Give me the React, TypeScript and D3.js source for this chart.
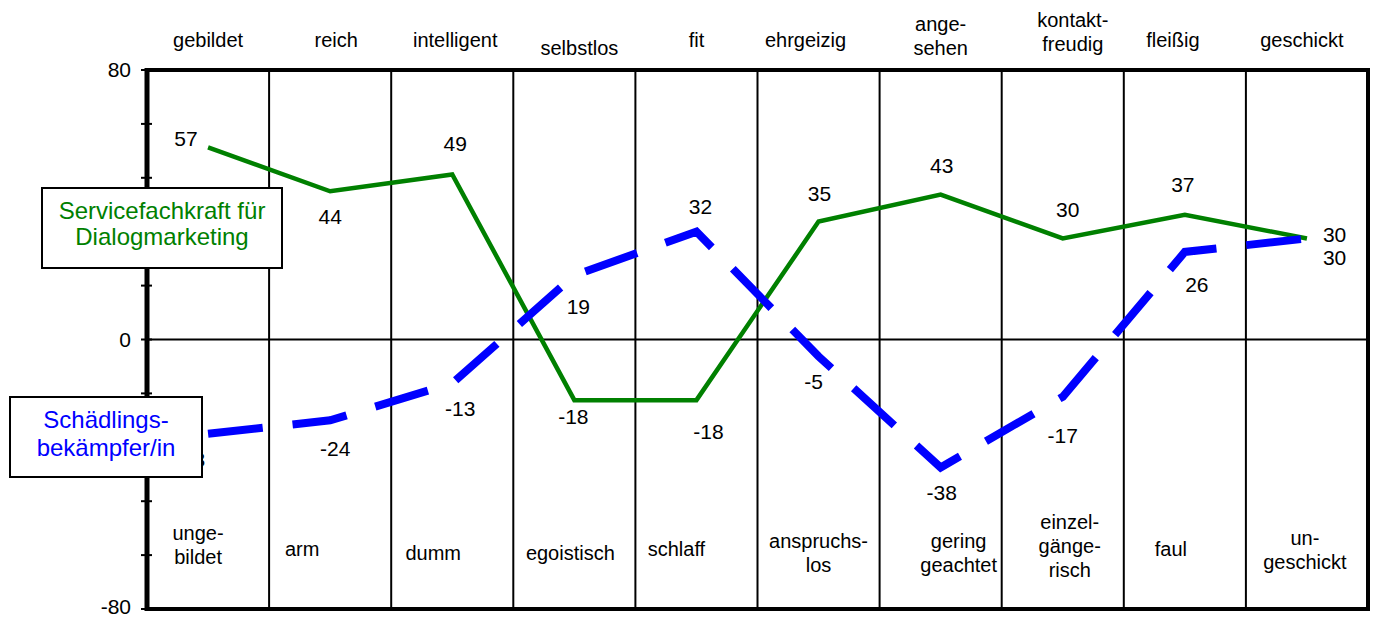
import React from "react";
import * as d3 from "d3";

// positive traits (top) and their opposites (bottom), one per column
const topLabels = [
  ["gebildet"], ["reich"], ["intelligent"], ["selbstlos"], ["fit"],
  ["ehrgeizig"], ["ange-", "sehen"], ["kontakt-", "freudig"], ["fleißig"], ["geschickt"],
];
const bottomLabels = [
  ["unge-", "bildet"], ["arm"], ["dumm"], ["egoistisch"], ["schlaff"],
  ["anspruchs-", "los"], ["gering", "geachtet"], ["einzel-", "gänge-", "risch"], ["faul"], ["un-", "geschickt"],
];
const categories = topLabels.map((l) => l.join(""));

const serviceValues = [57, 44, 49, -18, -18, 35, 43, 30, 37, 30];
const pestValues = [-28, -24, -13, 19, 32, -5, -38, -17, 26, 30];

const yTickLabels = [80, 0, -80];
const yMinorTicks = [80, 64, 48, 32, 16, 0, -16, -32, -48, -64, -80];

// label placement (layout only)
const topDx = [0, 6, 3, 5, 0, -13, 0, 10, -12, -5];
const topY = [40, 40, 40, 48, 40, 40, 24, 20, 40, 40];
const bottomDx = [-10, -28, -19, -4, -20, 0, 18, 7, -14, -2];
const bottomY = [533, 549, 553, 553, 549, 541, 541, 522, 549, 538];
const serviceOff = [[-22, -9], [0, 25], [3, -31], [-1, 17], [12, 32], [1, -28], [1, -29], [5, -29], [-2, -30], [16, -4, 1]];
const pestOff = [[-18, 26], [5, 28], [8, 25], [4, 31], [4, -25], [-5, 25], [1, 25], [0, 39], [12, 33], [16, 19, 1]];

const W = 1374;
const H = 617;
const left = 147;
const right = 1368;
const top = 70;
const bottom = 609;
const font = "'Liberation Sans', Arial, sans-serif";
const GREEN = "#008000";
const BLUE = "#0000ff";

export default function App() {
  const x = d3.scaleBand<string>().domain(categories).range([left, right]).padding(0);
  const y = d3.scaleLinear().domain([-80, 80]).range([bottom, top]);
  const cx = (i: number) => (x(categories[i]) as number) + x.bandwidth() / 2;

  const line = d3
    .line<number>()
    .x((_, i) => cx(i))
    .y((d) => y(d));

  const dataLabels = (vals: number[], off: number[][]) =>
    vals.map((v, i) => {
      const o = off[i];
      const anchor = o[2] ? "start" : "middle";
      return (
        <text
          key={i}
          x={cx(i) + o[0]}
          y={y(v) + o[1]}
          dy="0.35em"
          textAnchor={anchor}
          fontSize={21}
          fill="#000"
        >
          {v}
        </text>
      );
    });

  return (
    <svg
      width={W}
      height={H}
      style={{ position: "absolute", left: 0, top: 0, background: "#fff" }}
      fontFamily={font}
    >
      <rect width={W} height={H} fill="#fff" />

      {/* column dividers */}
      {categories.slice(1).map((c) => (
        <line key={c} x1={x(c)} x2={x(c)} y1={top} y2={bottom + 2} stroke="#000" strokeWidth={2} />
      ))}

      {/* zero line */}
      <line x1={left} x2={right} y1={y(0)} y2={y(0)} stroke="#000" strokeWidth={2} />

      {/* frame */}
      <line x1={left} x2={right + 2} y1={top} y2={top} stroke="#000" strokeWidth={4} />
      <line x1={right} x2={right} y1={top} y2={bottom} stroke="#000" strokeWidth={4} />
      <line x1={left} x2={right + 2} y1={bottom} y2={bottom} stroke="#000" strokeWidth={4} />

      {/* y axis */}
      <line x1={left} x2={left} y1={top - 2} y2={bottom + 2} stroke="#000" strokeWidth={5} />
      {yMinorTicks.map((t) => (
        <line key={t} x1={left - 6} x2={left + 5} y1={y(t)} y2={y(t)} stroke="#000" strokeWidth={2} />
      ))}
      {yTickLabels.map((t) => (
        <text key={t} x={131} y={Math.min(y(t), bottom - 2)} dy="0.35em" textAnchor="end" fontSize={21}>
          {t}
        </text>
      ))}

      {/* category labels */}
      {topLabels.map((lines, i) => (
        <text key={"t" + i} x={cx(i) + topDx[i]} y={topY[i]} textAnchor="middle" fontSize={20}>
          {lines.map((l, j) => (
            <tspan key={j} x={cx(i) + topDx[i]} y={topY[i] + j * 24} dy="0.35em">
              {l}
            </tspan>
          ))}
        </text>
      ))}
      {bottomLabels.map((lines, i) => (
        <text key={"b" + i} x={cx(i) + bottomDx[i]} y={bottomY[i]} textAnchor="middle" fontSize={20}>
          {lines.map((l, j) => (
            <tspan key={j} x={cx(i) + bottomDx[i]} y={bottomY[i] + j * 24} dy="0.35em">
              {l}
            </tspan>
          ))}
        </text>
      ))}

      {/* series */}
      <path d={line(serviceValues) as string} fill="none" stroke={GREEN} strokeWidth={4.5} />
      <path
        d={line(pestValues) as string}
        fill="none"
        stroke={BLUE}
        strokeWidth={8}
        strokeDasharray="55,30"
      />

      {dataLabels(serviceValues, serviceOff)}
      {dataLabels(pestValues, pestOff)}

      {/* legend boxes */}
      <rect x={42} y={188} width={240} height={80} fill="#fff" stroke="#000" strokeWidth={2} />
      <text x={162} textAnchor="middle" fontSize={24} fill={GREEN}>
        <tspan x={162} y={219}>Servicefachkraft für</tspan>
        <tspan x={162} y={245}>Dialogmarketing</tspan>
      </text>
      <rect x={10} y={397} width={192} height={80} fill="#fff" stroke="#000" strokeWidth={2} />
      <text x={106} textAnchor="middle" fontSize={24} fill={BLUE}>
        <tspan x={106} y={428}>Schädlings-</tspan>
        <tspan x={106} y={456}>bekämpfer/in</tspan>
      </text>
    </svg>
  );
}
